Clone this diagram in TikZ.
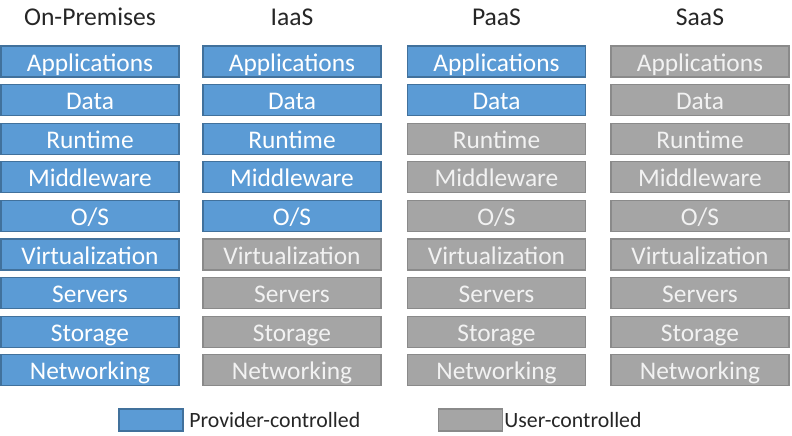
\documentclass[tikz,border=0pt]{standalone}
\usepackage{fontspec}
\setmainfont{Carlito}
\usepackage{tikz}
\usetikzlibrary{positioning}
\definecolor{provblue}{HTML}{5B9BD5}
\definecolor{provedge}{HTML}{41719C}
\definecolor{usergray}{HTML}{A5A5A5}
\definecolor{useredge}{HTML}{8A8A8A}
\definecolor{usertext}{HTML}{F2F2F2}
\tikzset{
  layer/.style={rectangle,minimum width=89pt,minimum height=15.5pt,inner sep=0pt,text height=11pt,text depth=1.5pt,line width=0.6pt,font=\fontsize{12.7}{14}\selectfont},
  prov/.style={layer,draw=provedge,fill=provblue,text=white},
  user/.style={layer,draw=useredge,fill=usergray,text=usertext},
  head/.style={font=\fontsize{12.8}{14}\selectfont,text=black!85},
  key/.style={rectangle,minimum width=32pt,minimum height=11pt,inner sep=0pt,line width=0.6pt},
  keytext/.style={font=\fontsize{10.9}{12}\selectfont,text=black!85,inner sep=0pt,anchor=west}
}
\newcommand{\pnode}{\node[prov]}
\newcommand{\unode}{\node[user]}

\begin{document}
\begin{tikzpicture}[x=0.5pt,y=-0.5pt]
      \useasboundingbox (0,0) rectangle (792,435);
      %%%% column titles
      \node[head] (onprem) at (90,17) {On-Premises};
      \node[head] (iaas) at (292,17) {IaaS};
      \node[head] (paas) at (496.5,17) {PaaS};
      \node[head] (saas) at (700,17) {SaaS};
      %%%% on-premises stack
      \pnode (app1) at (90,61.5) {Applications};
      \pnode (data1) at (90,100.1) {Data};
      \pnode (run1) at (90,138.7) {Runtime};
      \pnode (mid1) at (90,177.3) {Middleware};
      \pnode (os1) at (90,215.9) {O/S};
      \pnode (virt1) at (90,254.5) {Virtualization};
      \pnode (serv1) at (90,293.1) {Servers};
      \pnode (stor1) at (90,331.7) {Storage};
      \pnode (net1) at (90,370.3) {Networking};
      %%%% IaaS stack
      \pnode (app2) at (292,61.5) {Applications};
      \pnode (data2) at (292,100.1) {Data};
      \pnode (run2) at (292,138.7) {Runtime};
      \pnode (mid2) at (292,177.3) {Middleware};
      \pnode (os2) at (292,215.9) {O/S};
      \unode (virt2) at (292,254.5) {Virtualization};
      \unode (serv2) at (292,293.1) {Servers};
      \unode (stor2) at (292,331.7) {Storage};
      \unode (net2) at (292,370.3) {Networking};
      %%%% PaaS stack
      \pnode (app3) at (496.5,61.5) {Applications};
      \pnode (data3) at (496.5,100.1) {Data};
      \unode (run3) at (496.5,138.7) {Runtime};
      \unode (mid3) at (496.5,177.3) {Middleware};
      \unode (os3) at (496.5,215.9) {O/S};
      \unode (virt3) at (496.5,254.5) {Virtualization};
      \unode (serv3) at (496.5,293.1) {Servers};
      \unode (stor3) at (496.5,331.7) {Storage};
      \unode (net3) at (496.5,370.3) {Networking};
      %%%% SaaS stack
      \unode (app4) at (700,61.5) {Applications};
      \unode (data4) at (700,100.1) {Data};
      \unode (run4) at (700,138.7) {Runtime};
      \unode (mid4) at (700,177.3) {Middleware};
      \unode (os4) at (700,215.9) {O/S};
      \unode (virt4) at (700,254.5) {Virtualization};
      \unode (serv4) at (700,293.1) {Servers};
      \unode (stor4) at (700,331.7) {Storage};
      \unode (net4) at (700,370.3) {Networking};
      %%%%% legend
      \node[key,draw=provedge,fill=provblue] (provkey) at (151,420) {};
      \node[keytext] (provlabel) at (189,420) {Provider-controlled};
      \node[key,draw=useredge,fill=usergray] (userkey) at (470.5,420) {};
      \node[keytext] (userlabel) at (504,420) {User-controlled};
    \end{tikzpicture}
\end{document}
